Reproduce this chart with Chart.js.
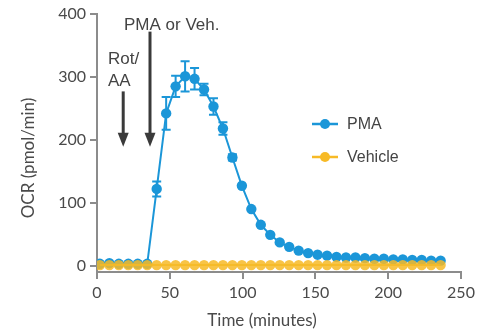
<!DOCTYPE html>
<html>
<head>
<meta charset="utf-8">
<script src="https://cdn.jsdelivr.net/npm/chart.js@4/dist/chart.umd.min.js"></script>
<style>
html,body{margin:0;padding:0;background:#fff;}
#wrap{width:492px;height:335px;position:relative;}
</style>
</head>
<body>
<div id="wrap"><canvas id="c" width="492" height="335"></canvas></div>
<script>
// ---- data ----
const timeMin = [2, 8.5, 15, 21.5, 28, 34.5, 41, 47.5, 54, 60.5, 67, 73.5, 80, 86.5, 93, 99.5, 106, 112.5, 119, 125.5, 132, 138.5, 145, 151.5, 158, 164.5, 171, 177.5, 184, 190.5, 197, 203.5, 210, 216.5, 223, 229.5, 236];
const pmaOCR = [3, 4, 3, 3, 3, 3, 122, 242, 285, 301, 297, 280, 253, 218, 172, 127, 90, 65, 49, 37, 30, 24, 20, 17.5, 16, 14, 13, 13, 12, 11, 11, 10, 10, 9, 9, 8, 8];
const pmaErr = [2, 2, 2, 2, 2, 2, 12, 26, 17, 24, 17, 9, 13, 10, 5, 3, 3, 2, 2, 2, 2, 2, 2, 2, 2, 2, 2, 2, 2, 2, 2, 2, 2, 2, 2, 2, 2];
const vehOCR = [1, 1, 1, 1, 1, 1, 1, 1, 1, 1, 1, 1, 1, 1, 1, 1, 1, 1, 1, 1, 1, 1, 1, 1, 1, 1, 1, 1, 1, 1, 1, 1, 1, 1, 1, 1, 1];
const seriesNames = ['PMA', 'Vehicle'];
const yTicks = [0, 100, 200, 300, 400];
const xTicks = [0, 50, 100, 150, 200, 250];
const annotations = [
  {lines: ['Rot/', 'AA'], t: 18, yTop: 277, yTip: 189},
  {lines: ['PMA or Veh.'], t: 36.4, yTop: 372, yTip: 189}
];

const BLUE = '#1b96d8';
const YELLOW = 'rgba(247,186,38,0.85)';
const AXIS = '#8c8c8c';
const TXT = '#4a4a4a';
const TICKFONT = 'Lato, "Open Sans", sans-serif';
const ARIAL = '"Liberation Sans", Arial, sans-serif';

const pts = (xs, ys) => xs.map((x, i) => ({x: x, y: ys[i]}));

const errorBars = {
  id: 'errorBars',
  beforeDatasetsDraw(chart) {
    const ctx = chart.ctx, x = chart.scales.x, y = chart.scales.y;
    ctx.save();
    ctx.strokeStyle = BLUE;
    ctx.lineWidth = 2;
    timeMin.forEach((t, i) => {
      const e = pmaErr[i];
      if (e < 4) return;
      const px = x.getPixelForValue(t);
      const y1 = y.getPixelForValue(pmaOCR[i] + e), y2 = y.getPixelForValue(pmaOCR[i] - e);
      ctx.beginPath();
      ctx.moveTo(px, y1); ctx.lineTo(px, y2);
      ctx.moveTo(px - 4.5, y1); ctx.lineTo(px + 4.5, y1);
      ctx.moveTo(px - 4.5, y2); ctx.lineTo(px + 4.5, y2);
      ctx.stroke();
    });
    ctx.restore();
  }
};

const extras = {
  id: 'extras',
  afterDraw(chart) {
    const ctx = chart.ctx, x = chart.scales.x, y = chart.scales.y;
    ctx.save();
    // arrows + labels
    ctx.fillStyle = '#3a3a3a';
    ctx.strokeStyle = '#3a3a3a';
    annotations.forEach(a => {
      const px = x.getPixelForValue(a.t);
      const top = y.getPixelForValue(a.yTop), tip = y.getPixelForValue(a.yTip);
      ctx.lineWidth = 3;
      ctx.beginPath(); ctx.moveTo(px, top); ctx.lineTo(px, tip - 12); ctx.stroke();
      ctx.beginPath();
      ctx.moveTo(px - 5.5, tip - 14); ctx.lineTo(px + 5.5, tip - 14); ctx.lineTo(px, tip); ctx.closePath();
      ctx.fill();
    });
    ctx.fillStyle = '#444';
    ctx.font = '17px ' + ARIAL;
    ctx.textAlign = 'left'; ctx.textBaseline = 'alphabetic';
    ctx.fillText(annotations[0].lines[0], 108, 64);
    ctx.fillText(annotations[0].lines[1], 108, 86);
    ctx.fillText(annotations[1].lines[0], 124, 30);
    // legend
    const legend = [[BLUE, seriesNames[0], 124], ['rgb(247,186,38)', seriesNames[1], 157]];
    legend.forEach(([c, name, cy]) => {
      ctx.strokeStyle = c; ctx.fillStyle = c; ctx.lineWidth = 2.5;
      ctx.beginPath(); ctx.moveTo(312, cy); ctx.lineTo(338, cy); ctx.stroke();
      ctx.beginPath(); ctx.arc(325, cy, 5, 0, Math.PI * 2); ctx.fill();
      ctx.fillStyle = '#444';
      ctx.font = '16px ' + ARIAL;
      ctx.textBaseline = 'middle';
      ctx.fillText(name, 347, cy + 1);
    });
    // axis titles
    ctx.fillStyle = TXT;
    ctx.font = '17px ' + TICKFONT;
    ctx.textAlign = 'center'; ctx.textBaseline = 'alphabetic';
    ctx.fillText('Time (minutes)', 262, 326);
    ctx.translate(34, 158);
    ctx.rotate(-Math.PI / 2);
    ctx.fillText('OCR (pmol/min)', 0, 0);
    ctx.restore();
  }
};

new Chart(document.getElementById('c'), {
  type: 'line',
  data: {
    datasets: [
      {label: seriesNames[0], data: pts(timeMin, pmaOCR), borderColor: BLUE, backgroundColor: BLUE,
       borderWidth: 2, pointRadius: 5.2, pointBorderWidth: 0, tension: 0, order: 2},
      {label: seriesNames[1], data: pts(timeMin, vehOCR), borderColor: YELLOW, backgroundColor: YELLOW,
       borderWidth: 2, pointRadius: 5.2, pointBorderWidth: 0, tension: 0, order: 1}
    ]
  },
  options: {
    responsive: false,
    animation: false,
    layout: {padding: {left: 0, right: 31, top: 14, bottom: 0}},
    plugins: {legend: {display: false}, tooltip: {enabled: false}},
    scales: {
      x: {
        type: 'linear', min: 0, max: 250,
        afterBuildTicks: s => { s.ticks = xTicks.map(v => ({value: v})); },
        afterFit: s => { s.height = 63; },
        grid: {drawOnChartArea: false, drawTicks: true, tickLength: 7, color: AXIS, lineWidth: 2},
        border: {display: true, color: AXIS, width: 2},
        ticks: {color: TXT, font: {family: TICKFONT, size: 16}, padding: 4, maxRotation: 0}
      },
      y: {
        min: -10, max: 400,
        afterBuildTicks: s => { s.ticks = yTicks.map(v => ({value: v})); },
        afterFit: s => { s.width = 97; },
        grid: {drawOnChartArea: false, drawTicks: true, tickLength: 7, color: AXIS, lineWidth: 2},
        border: {display: true, color: AXIS, width: 2},
        ticks: {color: TXT, font: {family: TICKFONT, size: 16}, padding: 4}
      }
    }
  },
  plugins: [errorBars, extras]
});
</script>
</body>
</html>
